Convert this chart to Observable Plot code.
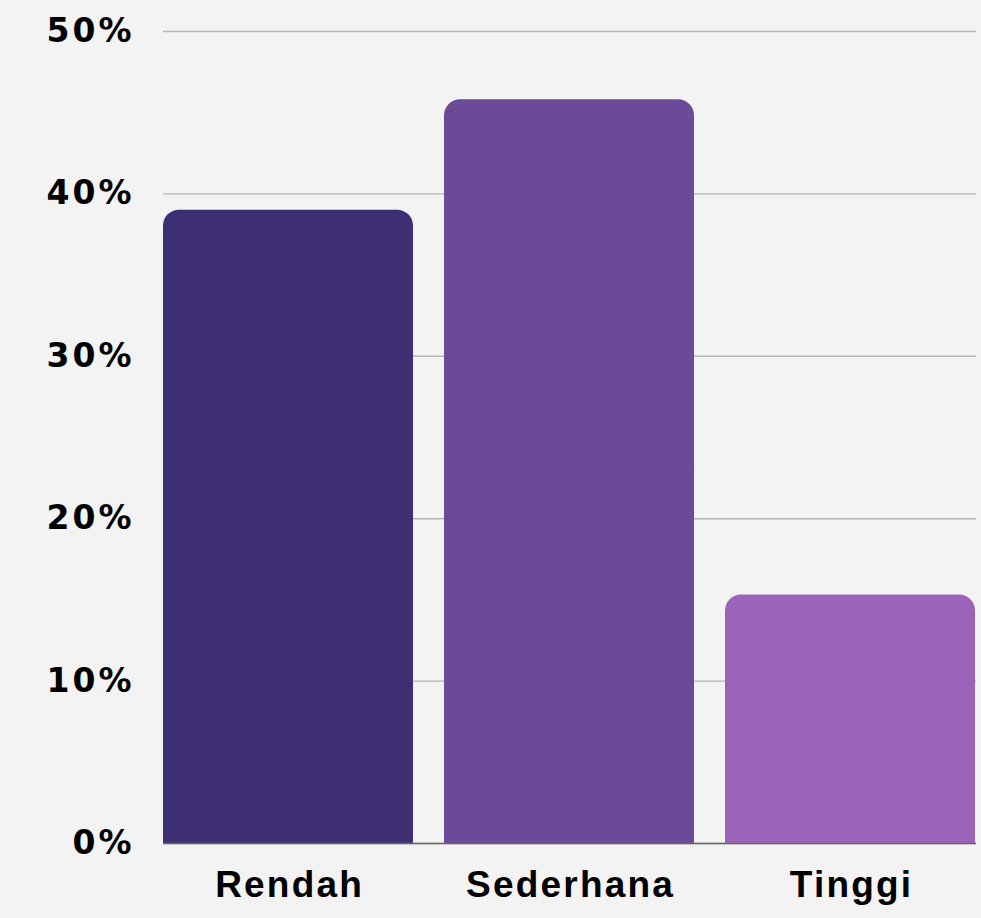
<!DOCTYPE html>
<html>
<head>
<meta charset="utf-8">
<script src="https://cdn.jsdelivr.net/npm/d3@7"></script>
<script src="https://cdn.jsdelivr.net/npm/@observablehq/plot@0.6"></script>
<style>
  html, body { margin: 0; padding: 0; background: #f3f3f3; }
  #chart svg { display: block; }
  #chart g[aria-label="x-axis tick label"] text { letter-spacing: 2.2px; }
  #chart g[aria-label="y-axis tick label"] text { letter-spacing: 3px; }
</style>
</head>
<body>
<div id="chart"></div>
<script>
const categories = ["Rendah", "Sederhana", "Tinggi"];
const values = [39.0, 45.8, 15.3];
const colors = ["#3e2f74", "#6b4a97", "#9d62b9"];
const yTicks = [0, 10, 20, 30, 40, 50];

const data = categories.map((c, i) => ({cat: c, value: values[i]}));

const chart = Plot.plot({
  width: 981,
  height: 918,
  marginLeft: 163,
  marginRight: 5,
  marginTop: 31,
  marginBottom: 75,
  style: {background: "#f3f3f3", overflow: "visible"},
  x: {domain: categories, paddingInner: 0.11, paddingOuter: 0},
  y: {domain: [0, 50]},
  color: {domain: categories, range: colors},
  marks: [
    Plot.ruleY(yTicks, {stroke: "#b5b5b5", strokeWidth: 1.4}),
    Plot.barY(data, {x: "cat", y: "value", fill: "cat", rx: 16}),
    Plot.barY(data, {x: "cat", y1: 0, y2: d => d.value / 2, fill: "cat"}),
    Plot.ruleY([0], {stroke: "#666666", strokeWidth: 1.5}),
    Plot.axisY({
      ticks: yTicks,
      tickSize: 0,
      tickPadding: 29,
      tickFormat: d => d + "%",
      fontSize: 33,
      fontWeight: "bold",
      fontFamily: "DejaVu Sans",
      fill: "#000",
      label: null
    }),
    Plot.axisX({
      tickSize: 0,
      tickPadding: 27,
      fontSize: 37,
      fontWeight: "bold",
      fontFamily: "Liberation Sans",
      fill: "#000",
      label: null,
      dx: 1.1
    })
  ]
});
document.getElementById("chart").append(chart);
</script>
</body>
</html>
